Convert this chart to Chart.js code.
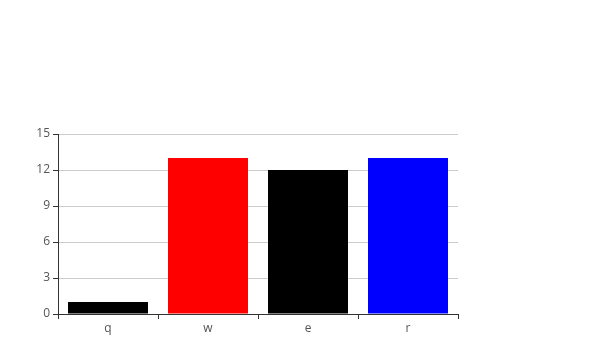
<!DOCTYPE html>
<html>
<head>
<meta charset="utf-8">
<script src="https://cdn.jsdelivr.net/npm/chart.js@4/dist/chart.umd.min.js"></script>
<style>
html,body{margin:0;padding:0;background:#fff;}
#wrap{width:601px;height:352px;position:relative;}
</style>
</head>
<body>
<div id="wrap"><canvas id="c"></canvas></div>
<script>
const categories = ['q', 'w', 'e', 'r'];
const values = [1, 13, 12, 13];
const barColors = ['#000000', '#ff0000', '#000000', '#0000ff'];
const yTicks = [0, 3, 6, 9, 12, 15];

Chart.defaults.font.family = '"Open Sans", "Noto Sans", sans-serif';
Chart.defaults.font.size = 12;
Chart.defaults.color = '#555';

new Chart(document.getElementById('c'), {
  type: 'bar',
  data: {
    labels: categories,
    datasets: [{
      data: values,
      backgroundColor: barColors,
      borderWidth: 0,
      barPercentage: 0.8,
      categoryPercentage: 1.0
    }]
  },
  options: {
    responsive: true,
    maintainAspectRatio: false,
    animation: false,
    layout: { padding: { left: 0, top: 134, right: 143, bottom: 0 } },
    plugins: { legend: { display: false }, tooltip: { enabled: false } },
    scales: {
      x: {
        grid: { drawOnChartArea: false, drawTicks: true, tickLength: 5, tickColor: '#333', offset: true },
        border: { color: '#333', width: 1 },
        ticks: { padding: 2, color: '#555' },
        afterFit: s => { s.height = 38; }
      },
      y: {
        min: 0, max: 15,
        afterBuildTicks: s => { s.ticks = yTicks.map(v => ({ value: v })); },
        grid: { color: '#ccc', tickColor: '#333', tickLength: 5 },
        border: { color: '#333', width: 1 },
        ticks: { padding: 3, color: '#555' },
        afterFit: s => { s.width = 58; }
      }
    }
  }
});
</script>
</body>
</html>
